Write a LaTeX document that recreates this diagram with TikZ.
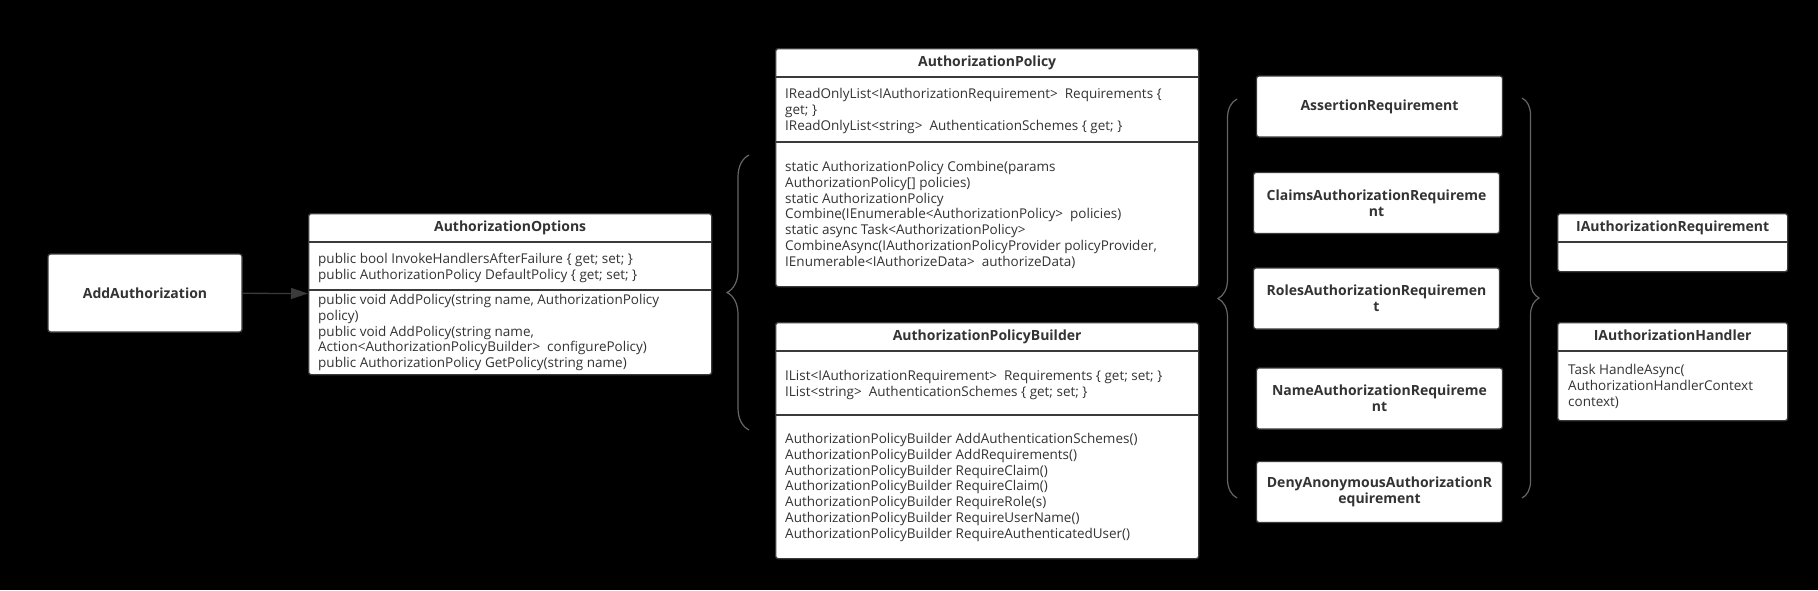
\documentclass[tikz,border=0pt]{standalone}
\usepackage{fontspec}
\setmainfont{Open Sans}
\usetikzlibrary{positioning,decorations.pathreplacing,arrows.meta}

\definecolor{txt}{HTML}{333333}
\definecolor{edge}{HTML}{3A3A3A}
\definecolor{brc}{HTML}{666666}

\begin{document}
\begin{tikzpicture}[x=1pt, y=-1pt,
    box/.style={draw=edge, fill=white, line width=1.3pt, rounded corners=2.5pt,
      anchor=north west, inner sep=0pt},
    reqbox/.style={draw=edge, fill=white, line width=1.3pt, rounded corners=2.5pt,
      minimum width=246, minimum height=61, inner sep=0pt, align=center, text=txt,
      font=\fontsize{14}{16}\selectfont\bfseries},
    title/.style={anchor=north, minimum height=29, inner sep=0pt, text=txt,
      text height=10, text depth=3, font=\fontsize{14}{16}\selectfont\bfseries},
    body/.style={anchor=north west, inner sep=0pt, align=left, text=txt,
      font=\fontsize{13.5}{15.8}\selectfont},
    sep/.style={draw=edge, line width=1.3pt},
    curly/.style={draw=brc, line width=1.2pt, decorate,
      decoration={brace, amplitude=#1}},
    arrow/.style={draw=edge, line width=1.3pt,
      -{Triangle[length=17pt, width=11pt]}}
]
  \fill[black] (0,0) rectangle (1818,590);
  \useasboundingbox (0,0) rectangle (1818,590);

  % --- entry point ---
  \node[reqbox, minimum width=194, minimum height=78] (add) at (145,293) {AddAuthorization};

  % --- options class ---
  \node[box, minimum width=403, minimum height=161] (opt) at (308,213) {};
  \node[title] (opttitle) at (opt.north) {AuthorizationOptions};
  \draw[sep] (opt.west |- 0,242) -- (opt.east |- 0,242);
  \draw[sep] (opt.west |- 0,290) -- (opt.east |- 0,290);
  \node[body, below right=40pt and 10pt of opt.north west] (optprop)
    {public bool InvokeHandlersAfterFailure \{ get; set; \}\\
     public AuthorizationPolicy DefaultPolicy \{ get; set; \}};
  \node[body, below right=81pt and 10pt of opt.north west] (optmeth)
    {public void AddPolicy(string name, AuthorizationPolicy\\
     policy)\\
     public void AddPolicy(string name,\\
     Action<AuthorizationPolicyBuilder> \ configurePolicy)\\
     public AuthorizationPolicy GetPolicy(string name)};

  \draw[arrow] (add) -- (opt);

  % --- policy class ---
  \node[box, minimum width=423, minimum height=238] (pol) at (775,48) {};
  \node[title] (poltitle) at (pol.north) {AuthorizationPolicy};
  \draw[sep] (pol.west |- 0,77) -- (pol.east |- 0,77);
  \draw[sep] (pol.west |- 0,142) -- (pol.east |- 0,142);
  \node[body, below right=40pt and 10pt of pol.north west] (polprop)
    {IReadOnlyList<IAuthorizationRequirement> \ Requirements \{\\
     get; \}\\
     IReadOnlyList<string> \ AuthenticationSchemes \{ get; \}};
  \node[body, below right=113pt and 10pt of pol.north west] (polmeth)
    {static AuthorizationPolicy Combine(params\\
     AuthorizationPolicy[] policies)\\
     static AuthorizationPolicy\\
     Combine(IEnumerable<AuthorizationPolicy> \ policies)\\
     static async Task<AuthorizationPolicy>\\
     CombineAsync(IAuthorizationPolicyProvider policyProvider,\\
     IEnumerable<IAuthorizeData> \ authorizeData)};

  % --- builder class ---
  \node[box, minimum width=423, minimum height=236] (bld) at (775,322) {};
  \node[title] (bldtitle) at (bld.north) {AuthorizationPolicyBuilder};
  \draw[sep] (bld.west |- 0,351) -- (bld.east |- 0,351);
  \draw[sep] (bld.west |- 0,415) -- (bld.east |- 0,415);
  \node[body, below right=48pt and 10pt of bld.north west] (bldprop)
    {IList<IAuthorizationRequirement> \ Requirements \{ get; set; \}\\
     IList<string> \ AuthenticationSchemes \{ get; set; \}};
  \node[body, below right=111pt and 10pt of bld.north west] (bldmeth)
    {AuthorizationPolicyBuilder AddAuthenticationSchemes()\\
     AuthorizationPolicyBuilder AddRequirements()\\
     AuthorizationPolicyBuilder RequireClaim()\\
     AuthorizationPolicyBuilder RequireClaim()\\
     AuthorizationPolicyBuilder RequireRole(s)\\
     AuthorizationPolicyBuilder RequireUserName()\\
     AuthorizationPolicyBuilder RequireAuthenticatedUser()};

  % --- requirement implementations ---
  \node[reqbox] (assert) at (1379.5,106.5) {AssertionRequirement};
  \node[reqbox] (claims) at (1376.5,203) {ClaimsAuthorizationRequireme\\nt};
  \node[reqbox] (roles) at (1376.5,298.5) {RolesAuthorizationRequiremen\\t};
  \node[reqbox] (name) at (1379.5,398.5) {NameAuthorizationRequireme\\nt};
  \node[reqbox] (deny) at (1379.5,492) {DenyAnonymousAuthorizationR\\equirement};

  % --- interfaces ---
  \node[box, minimum width=230, minimum height=58] (ireq) at (1557,213) {};
  \node[title] (ireqtitle) at (ireq.north) {IAuthorizationRequirement};
  \draw[sep] (ireq.west |- 0,242) -- (ireq.east |- 0,242);

  \node[box, minimum width=230, minimum height=98] (ihdl) at (1557,322) {};
  \node[title] (ihdltitle) at (ihdl.north) {IAuthorizationHandler};
  \draw[sep] (ihdl.west |- 0,351) -- (ihdl.east |- 0,351);
  \node[body, below right=42pt and 11pt of ihdl.north west] (ihdlmeth)
    {Task HandleAsync(\\
     AuthorizationHandlerContext\\
     context)};

  % --- braces ---
  \draw[curly=22pt] (749,430) -- (749,155);
  \draw[curly=19pt] (1237,498) -- (1237,99);
  \draw[curly=17pt] (1522,98) -- (1522,498);
\end{tikzpicture}
\end{document}
